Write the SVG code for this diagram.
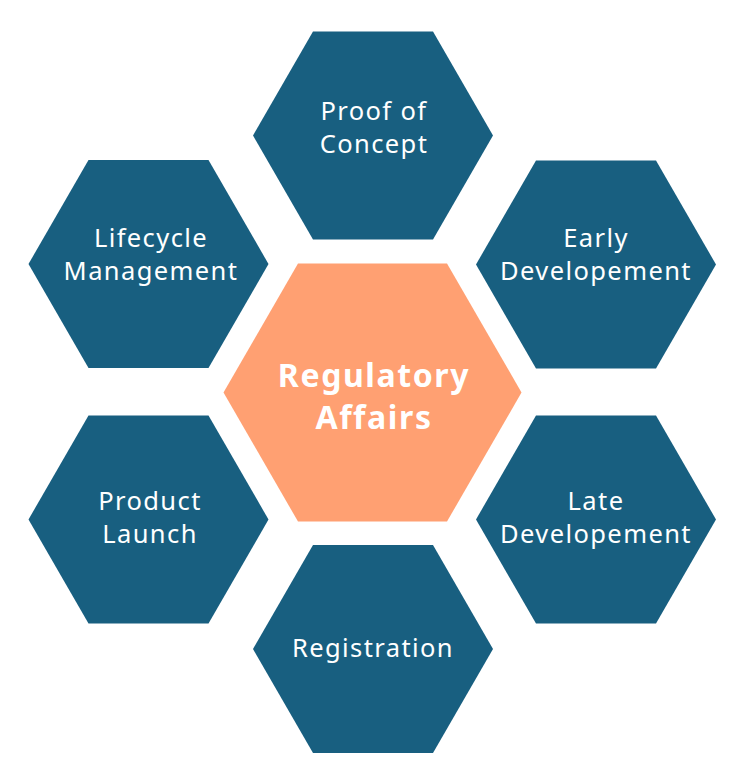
<svg xmlns="http://www.w3.org/2000/svg" width="738" height="776" viewBox="0 0 738 776">
<style>
.hex{fill:#185f80}
.core{fill:#ffa072}
.t{font-family:"Noto Sans","DejaVu Sans",sans-serif;font-size:25.5px;fill:#ffffff;text-anchor:middle;letter-spacing:1.4px}
.tb{font-family:"Noto Sans","DejaVu Sans",sans-serif;font-size:32px;font-weight:bold;fill:#ffffff;text-anchor:middle;letter-spacing:1.6px}
</style>
<defs>
<polygon id="h" points="-120,0 -60,-104 60,-104 120,0 60,104 -60,104"/>
</defs>
<rect width="738" height="776" fill="#ffffff"/>
<g id="connectors"></g>
<g id="center">
<polygon class="core" points="223.5,392.5 298,263.5 447,263.5 521.5,392.5 447,521.5 298,521.5"/>
<text class="tb" x="374" y="387">Regulatory</text>
<text class="tb" x="374" y="429">Affairs</text>
</g>
<g id="proof-of-concept">
<use href="#h" class="hex" x="373" y="135.5"/>
<text class="t" x="374" y="120">Proof of</text>
<text class="t" x="374" y="153">Concept</text>
</g>
<g id="early-development">
<use href="#h" class="hex" x="596" y="264.5"/>
<text class="t" x="596" y="247">Early</text>
<text class="t" x="596" y="279.5">Developement</text>
</g>
<g id="late-development">
<use href="#h" class="hex" x="596" y="519.5"/>
<text class="t" x="596" y="510">Late</text>
<text class="t" x="596" y="542.5">Developement</text>
</g>
<g id="registration">
<use href="#h" class="hex" x="373" y="649"/>
<text class="t" x="373" y="656.5">Registration</text>
</g>
<g id="product-launch">
<use href="#h" class="hex" x="148.5" y="519.5"/>
<text class="t" x="150" y="510">Product</text>
<text class="t" x="150" y="542.5">Launch</text>
</g>
<g id="lifecycle-management">
<use href="#h" class="hex" x="148.5" y="264"/>
<text class="t" x="151" y="247">Lifecycle</text>
<text class="t" x="151" y="280">Management</text>
</g>
</svg>
